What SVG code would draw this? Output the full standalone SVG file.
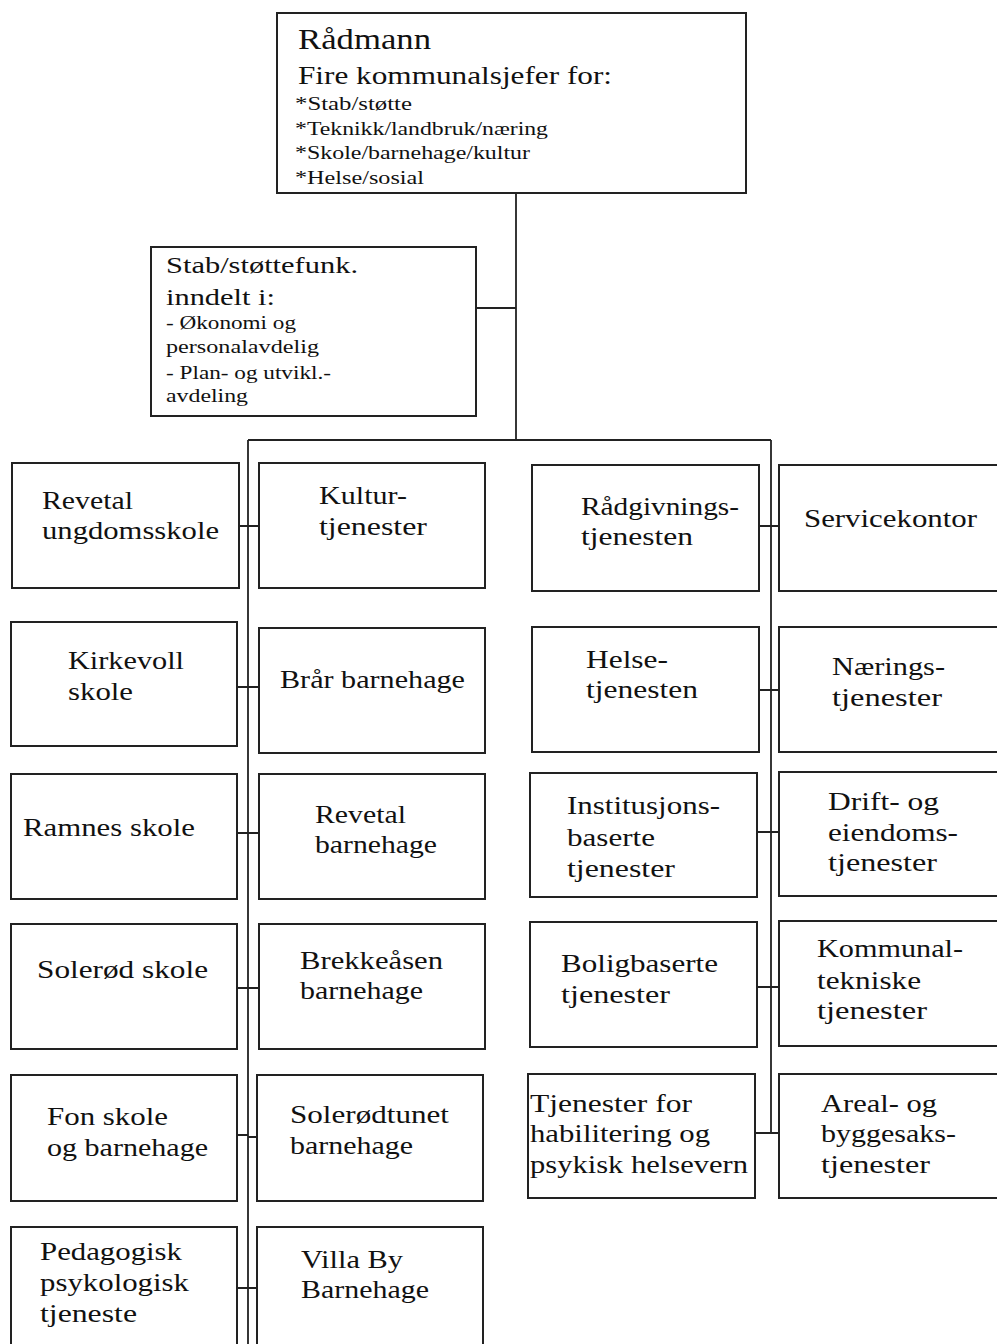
<svg xmlns="http://www.w3.org/2000/svg" width="997" height="1344" viewBox="0 0 997 1344">
<style>
.box{fill:#fff;stroke:#222;stroke-width:2}
.ln{stroke:#222;stroke-width:1.8;fill:none}
text{font-family:"Liberation Serif","Times New Roman",serif;fill:#111}
.t{font-size:26px}
.s{font-size:18px}
</style>
<rect width="997" height="1344" fill="#fff"/>
<g id="connectors">
<path class="ln" d="M516 193V440M476 308H516M248 440H771M248 440V1344M771 440V1133"/>
<path class="ln" d="M239 526H259M237 687H259M237 833H259M237 988H259M237 1135H248M248 1137H257M237 1288H257"/>
<path class="ln" d="M759 526H779M759 690H779M757 832H779M757 987H779M755 1133H779"/>
</g>
<g id="radmann">
<rect class="box" x="277" y="13" width="469" height="180"/>
<text x="298" y="49" font-size="30" textLength="133" lengthAdjust="spacingAndGlyphs">Rådmann</text>
<text x="298" y="84" font-size="26" textLength="314" lengthAdjust="spacingAndGlyphs">Fire kommunalsjefer for:</text>
<text class="s" x="295" y="110" textLength="117" lengthAdjust="spacingAndGlyphs">*Stab/støtte</text>
<text class="s" x="295" y="135" textLength="253" lengthAdjust="spacingAndGlyphs">*Teknikk/landbruk/næring</text>
<text class="s" x="295" y="159" textLength="235" lengthAdjust="spacingAndGlyphs">*Skole/barnehage/kultur</text>
<text class="s" x="295" y="184" textLength="129" lengthAdjust="spacingAndGlyphs">*Helse/sosial</text>
</g>
<g id="stab">
<rect class="box" x="151" y="247" width="325" height="169"/>
<text x="166" y="273" font-size="24" textLength="192" lengthAdjust="spacingAndGlyphs">Stab/støttefunk.</text>
<text x="166" y="305" font-size="24" textLength="109" lengthAdjust="spacingAndGlyphs">inndelt i:</text>
<text class="s" x="166" y="329" textLength="130" lengthAdjust="spacingAndGlyphs">- Økonomi og</text>
<text class="s" x="166" y="353" textLength="153" lengthAdjust="spacingAndGlyphs">personalavdelig</text>
<text class="s" x="166" y="379" textLength="165" lengthAdjust="spacingAndGlyphs">- Plan- og utvikl.-</text>
<text class="s" x="166" y="402" textLength="82" lengthAdjust="spacingAndGlyphs">avdeling</text>
</g>
<g id="revetal-ungdomsskole">
<rect class="box" x="12" y="463" width="227" height="125"/>
<text class="t" x="42" y="509" textLength="91" lengthAdjust="spacingAndGlyphs">Revetal</text>
<text class="t" x="42" y="539" textLength="177" lengthAdjust="spacingAndGlyphs">ungdomsskole</text>
</g>
<g id="kultur">
<rect class="box" x="259" y="463" width="226" height="125"/>
<text class="t" x="319" y="504" textLength="88" lengthAdjust="spacingAndGlyphs">Kultur-</text>
<text class="t" x="319" y="535" textLength="108" lengthAdjust="spacingAndGlyphs">tjenester</text>
</g>
<g id="kirkevoll">
<rect class="box" x="11" y="622" width="226" height="124"/>
<text class="t" x="68" y="669" textLength="116" lengthAdjust="spacingAndGlyphs">Kirkevoll</text>
<text class="t" x="68" y="700" textLength="65" lengthAdjust="spacingAndGlyphs">skole</text>
</g>
<g id="brar">
<rect class="box" x="259" y="628" width="226" height="125"/>
<text class="t" x="280" y="688" textLength="185" lengthAdjust="spacingAndGlyphs">Brår barnehage</text>
</g>
<g id="ramnes">
<rect class="box" x="11" y="774" width="226" height="125"/>
<text class="t" x="23" y="836" textLength="172" lengthAdjust="spacingAndGlyphs">Ramnes skole</text>
</g>
<g id="revetal-barnehage">
<rect class="box" x="259" y="774" width="226" height="125"/>
<text class="t" x="315" y="823" textLength="91" lengthAdjust="spacingAndGlyphs">Revetal</text>
<text class="t" x="315" y="853" textLength="122" lengthAdjust="spacingAndGlyphs">barnehage</text>
</g>
<g id="solerod">
<rect class="box" x="11" y="924" width="226" height="125"/>
<text class="t" x="37" y="978" textLength="171" lengthAdjust="spacingAndGlyphs">Solerød skole</text>
</g>
<g id="brekkeasen">
<rect class="box" x="259" y="924" width="226" height="125"/>
<text class="t" x="300" y="969" textLength="143" lengthAdjust="spacingAndGlyphs">Brekkeåsen</text>
<text class="t" x="300" y="999" textLength="123" lengthAdjust="spacingAndGlyphs">barnehage</text>
</g>
<g id="fon">
<rect class="box" x="11" y="1075" width="226" height="126"/>
<text class="t" x="47" y="1125" textLength="121" lengthAdjust="spacingAndGlyphs">Fon skole</text>
<text class="t" x="47" y="1156" textLength="161" lengthAdjust="spacingAndGlyphs">og barnehage</text>
</g>
<g id="solerodtunet">
<rect class="box" x="257" y="1075" width="226" height="126"/>
<text class="t" x="290" y="1123" textLength="159" lengthAdjust="spacingAndGlyphs">Solerødtunet</text>
<text class="t" x="290" y="1154" textLength="123" lengthAdjust="spacingAndGlyphs">barnehage</text>
</g>
<g id="ppt">
<rect class="box" x="11" y="1227" width="226" height="130"/>
<text class="t" x="40" y="1260" textLength="142" lengthAdjust="spacingAndGlyphs">Pedagogisk</text>
<text class="t" x="40" y="1291" textLength="149" lengthAdjust="spacingAndGlyphs">psykologisk</text>
<text class="t" x="40" y="1322" textLength="97" lengthAdjust="spacingAndGlyphs">tjeneste</text>
</g>
<g id="villa-by">
<rect class="box" x="257" y="1227" width="226" height="130"/>
<text class="t" x="301" y="1268" textLength="102" lengthAdjust="spacingAndGlyphs">Villa By</text>
<text class="t" x="301" y="1298" textLength="128" lengthAdjust="spacingAndGlyphs">Barnehage</text>
</g>
<g id="radgivning">
<rect class="box" x="532" y="465" width="227" height="126"/>
<text class="t" x="581" y="515" textLength="158" lengthAdjust="spacingAndGlyphs">Rådgivnings-</text>
<text class="t" x="581" y="545" textLength="112" lengthAdjust="spacingAndGlyphs">tjenesten</text>
</g>
<g id="servicekontor">
<rect class="box" x="779" y="465" width="230" height="126"/>
<text class="t" x="804" y="527" textLength="173" lengthAdjust="spacingAndGlyphs">Servicekontor</text>
</g>
<g id="helse">
<rect class="box" x="532" y="627" width="227" height="125"/>
<text class="t" x="586" y="668" textLength="82" lengthAdjust="spacingAndGlyphs">Helse-</text>
<text class="t" x="586" y="698" textLength="112" lengthAdjust="spacingAndGlyphs">tjenesten</text>
</g>
<g id="naering">
<rect class="box" x="779" y="627" width="230" height="125"/>
<text class="t" x="832" y="675" textLength="113" lengthAdjust="spacingAndGlyphs">Nærings-</text>
<text class="t" x="832" y="706" textLength="110" lengthAdjust="spacingAndGlyphs">tjenester</text>
</g>
<g id="institusjon">
<rect class="box" x="530" y="773" width="227" height="124"/>
<text class="t" x="567" y="814" textLength="153" lengthAdjust="spacingAndGlyphs">Institusjons-</text>
<text class="t" x="567" y="846" textLength="88" lengthAdjust="spacingAndGlyphs">baserte</text>
<text class="t" x="567" y="877" textLength="108" lengthAdjust="spacingAndGlyphs">tjenester</text>
</g>
<g id="drift">
<rect class="box" x="779" y="772" width="230" height="124"/>
<text class="t" x="828" y="810" textLength="111" lengthAdjust="spacingAndGlyphs">Drift- og</text>
<text class="t" x="828" y="841" textLength="130" lengthAdjust="spacingAndGlyphs">eiendoms-</text>
<text class="t" x="828" y="871" textLength="109" lengthAdjust="spacingAndGlyphs">tjenester</text>
</g>
<g id="boligbaserte">
<rect class="box" x="530" y="922" width="227" height="125"/>
<text class="t" x="561" y="972" textLength="157" lengthAdjust="spacingAndGlyphs">Boligbaserte</text>
<text class="t" x="561" y="1003" textLength="109" lengthAdjust="spacingAndGlyphs">tjenester</text>
</g>
<g id="kommunalteknisk">
<rect class="box" x="779" y="921" width="230" height="125"/>
<text class="t" x="817" y="957" textLength="146" lengthAdjust="spacingAndGlyphs">Kommunal-</text>
<text class="t" x="817" y="989" textLength="104" lengthAdjust="spacingAndGlyphs">tekniske</text>
<text class="t" x="817" y="1019" textLength="110" lengthAdjust="spacingAndGlyphs">tjenester</text>
</g>
<g id="habilitering">
<rect class="box" x="528" y="1074" width="227" height="124"/>
<text class="t" x="530" y="1112" textLength="162" lengthAdjust="spacingAndGlyphs">Tjenester for</text>
<text class="t" x="530" y="1142" textLength="180" lengthAdjust="spacingAndGlyphs">habilitering og</text>
<text class="t" x="530" y="1173" textLength="218" lengthAdjust="spacingAndGlyphs">psykisk helsevern</text>
</g>
<g id="areal">
<rect class="box" x="779" y="1074" width="230" height="124"/>
<text class="t" x="821" y="1112" textLength="116" lengthAdjust="spacingAndGlyphs">Areal- og</text>
<text class="t" x="821" y="1142" textLength="135" lengthAdjust="spacingAndGlyphs">byggesaks-</text>
<text class="t" x="821" y="1173" textLength="109" lengthAdjust="spacingAndGlyphs">tjenester</text>
</g>
</svg>
